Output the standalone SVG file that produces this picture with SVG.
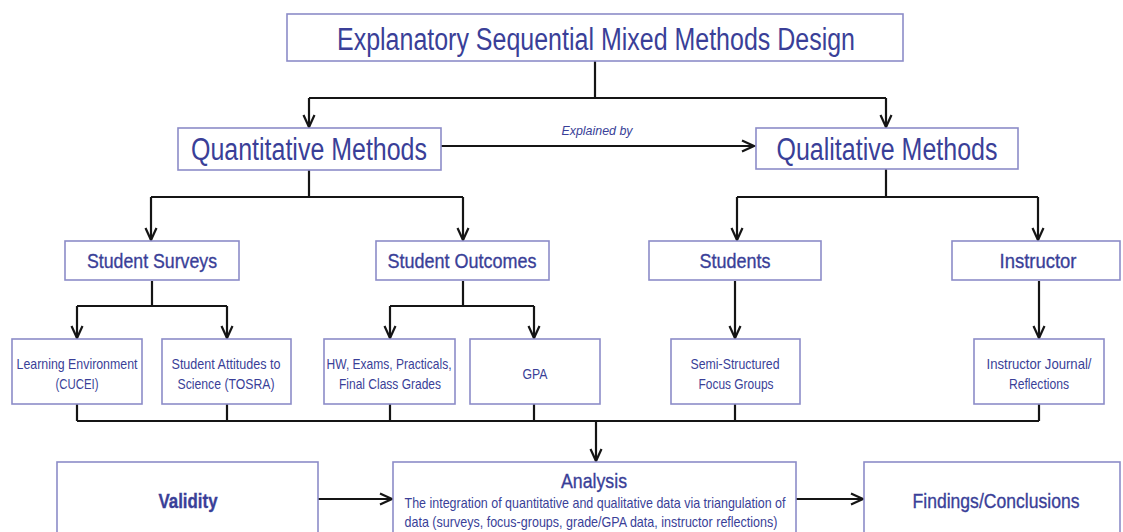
<svg xmlns="http://www.w3.org/2000/svg" width="1123" height="532" viewBox="0 0 1123 532">
<style>
.box{fill:#ffffff;stroke:#8c8cc8;stroke-width:1.6}
.t{font-family:"Liberation Sans Narrow","Liberation Sans",Arial,sans-serif;fill:#3a3f98;text-anchor:middle}
.xl{font-size:31px}
.l{font-size:21px;stroke:#3a3f98;stroke-width:0.35}
.s{font-size:15px}
.c{fill:none;stroke:#151515;stroke-width:2.2}
</style>
<defs>
<marker id="ah" markerUnits="userSpaceOnUse" markerWidth="16" markerHeight="14" refX="13" refY="7" orient="auto">
<path d="M1,1.5 L13,7 L1,12.5" fill="none" stroke="#151515" stroke-width="2.2"/>
</marker>
</defs>
<rect width="1123" height="532" fill="#ffffff"/>

<g id="connectors">
<path class="c" d="M595,61 V98 M309,98 H886"/>
<path class="c" d="M309,98 V127" marker-end="url(#ah)"/>
<path class="c" d="M886,98 V127" marker-end="url(#ah)"/>
<path class="c" d="M441,146 H754" marker-end="url(#ah)"/>
<path class="c" d="M309,170 V197 M151,197 H463 M886,169 V197 M737,197 H1038"/>
<path class="c" d="M151,197 V240" marker-end="url(#ah)"/>
<path class="c" d="M463,197 V240" marker-end="url(#ah)"/>
<path class="c" d="M737,197 V240" marker-end="url(#ah)"/>
<path class="c" d="M1038,197 V240" marker-end="url(#ah)"/>
<path class="c" d="M152,281 V306 M77,306 H227 M463,281 V306 M390,306 H534"/>
<path class="c" d="M77,306 V338" marker-end="url(#ah)"/>
<path class="c" d="M227,306 V338" marker-end="url(#ah)"/>
<path class="c" d="M390,306 V338" marker-end="url(#ah)"/>
<path class="c" d="M534,306 V338" marker-end="url(#ah)"/>
<path class="c" d="M735,281 V338" marker-end="url(#ah)"/>
<path class="c" d="M1039,281 V338" marker-end="url(#ah)"/>
<path class="c" d="M77,404 V421 M227,404 V421 M390,404 V421 M534,404 V421 M735,404 V421 M1039,404 V421 M77,421 H1039"/>
<path class="c" d="M596,421 V461" marker-end="url(#ah)"/>
<path class="c" d="M318,499 H392" marker-end="url(#ah)"/>
<path class="c" d="M796,499 H863" marker-end="url(#ah)"/>
<text x="597" y="135" class="t" font-size="13" font-style="italic" textLength="71" lengthAdjust="spacingAndGlyphs">Explained by</text>
</g>

<g id="title">
<rect class="box" x="287" y="14" width="616" height="47"/>
<text x="596" y="50" class="t xl" textLength="518" lengthAdjust="spacingAndGlyphs">Explanatory Sequential Mixed Methods Design</text>
</g>

<g id="quantitative">
<rect class="box" x="178" y="128" width="263" height="42"/>
<text x="309" y="160" class="t xl" textLength="236" lengthAdjust="spacingAndGlyphs">Quantitative Methods</text>
</g>

<g id="qualitative">
<rect class="box" x="756" y="128" width="262" height="41"/>
<text x="887" y="160" class="t xl" textLength="221" lengthAdjust="spacingAndGlyphs">Qualitative Methods</text>
</g>

<g id="student-surveys">
<rect class="box" x="65" y="241" width="174" height="39"/>
<text x="152" y="268" class="t l" textLength="130" lengthAdjust="spacingAndGlyphs">Student Surveys</text>
</g>

<g id="student-outcomes">
<rect class="box" x="376" y="241" width="173" height="39"/>
<text x="462" y="268" class="t l" textLength="149" lengthAdjust="spacingAndGlyphs">Student Outcomes</text>
</g>

<g id="students">
<rect class="box" x="649" y="241" width="172" height="39"/>
<text x="735" y="268" class="t l" textLength="71" lengthAdjust="spacingAndGlyphs">Students</text>
</g>

<g id="instructor">
<rect class="box" x="952" y="241" width="168" height="39"/>
<text x="1038" y="268" class="t l" textLength="77" lengthAdjust="spacingAndGlyphs">Instructor</text>
</g>

<g id="learning-environment">
<rect class="box" x="12" y="339" width="130" height="65"/>
<text x="77" y="369" class="t s" textLength="121" lengthAdjust="spacingAndGlyphs">Learning Environment</text>
<text x="77" y="389" class="t s" textLength="43" lengthAdjust="spacingAndGlyphs">(CUCEI)</text>
</g>

<g id="student-attitudes">
<rect class="box" x="162" y="339" width="129" height="65"/>
<text x="226" y="369" class="t s" textLength="109" lengthAdjust="spacingAndGlyphs">Student Attitudes to</text>
<text x="226" y="389" class="t s" textLength="97" lengthAdjust="spacingAndGlyphs">Science (TOSRA)</text>
</g>

<g id="hw-exams">
<rect class="box" x="324" y="339" width="131" height="65"/>
<text x="389" y="369" class="t s" textLength="125" lengthAdjust="spacingAndGlyphs">HW, Exams, Practicals,</text>
<text x="390" y="389" class="t s" textLength="102" lengthAdjust="spacingAndGlyphs">Final Class Grades</text>
</g>

<g id="gpa">
<rect class="box" x="470" y="339" width="130" height="65"/>
<text x="535" y="379" class="t s" textLength="25" lengthAdjust="spacingAndGlyphs">GPA</text>
</g>

<g id="focus-groups">
<rect class="box" x="671" y="339" width="129" height="65"/>
<text x="735" y="369" class="t s" textLength="89" lengthAdjust="spacingAndGlyphs">Semi-Structured</text>
<text x="736" y="389" class="t s" textLength="75" lengthAdjust="spacingAndGlyphs">Focus Groups</text>
</g>

<g id="instructor-journal">
<rect class="box" x="974" y="339" width="130" height="65"/>
<text x="1039" y="369" class="t s" textLength="105" lengthAdjust="spacingAndGlyphs">Instructor Journal/</text>
<text x="1039" y="389" class="t s" textLength="60" lengthAdjust="spacingAndGlyphs">Reflections</text>
</g>

<g id="validity">
<rect class="box" x="57" y="462" width="261" height="80"/>
<text x="188" y="508" class="t l" font-weight="bold" textLength="59" lengthAdjust="spacingAndGlyphs">Validity</text>
</g>

<g id="analysis">
<rect class="box" x="393" y="462" width="403" height="80"/>
<text x="594" y="488" class="t l" textLength="66" lengthAdjust="spacingAndGlyphs">Analysis</text>
<text x="595" y="508" class="t s" textLength="381" lengthAdjust="spacingAndGlyphs">The integration of quantitative and qualitative data via triangulation of</text>
<text x="591" y="527" class="t s" textLength="373" lengthAdjust="spacingAndGlyphs">data (surveys, focus-groups, grade/GPA data, instructor reflections)</text>
</g>

<g id="findings">
<rect class="box" x="864" y="462" width="256" height="80"/>
<text x="996" y="508" class="t l" textLength="167" lengthAdjust="spacingAndGlyphs">Findings/Conclusions</text>
</g>
</svg>
